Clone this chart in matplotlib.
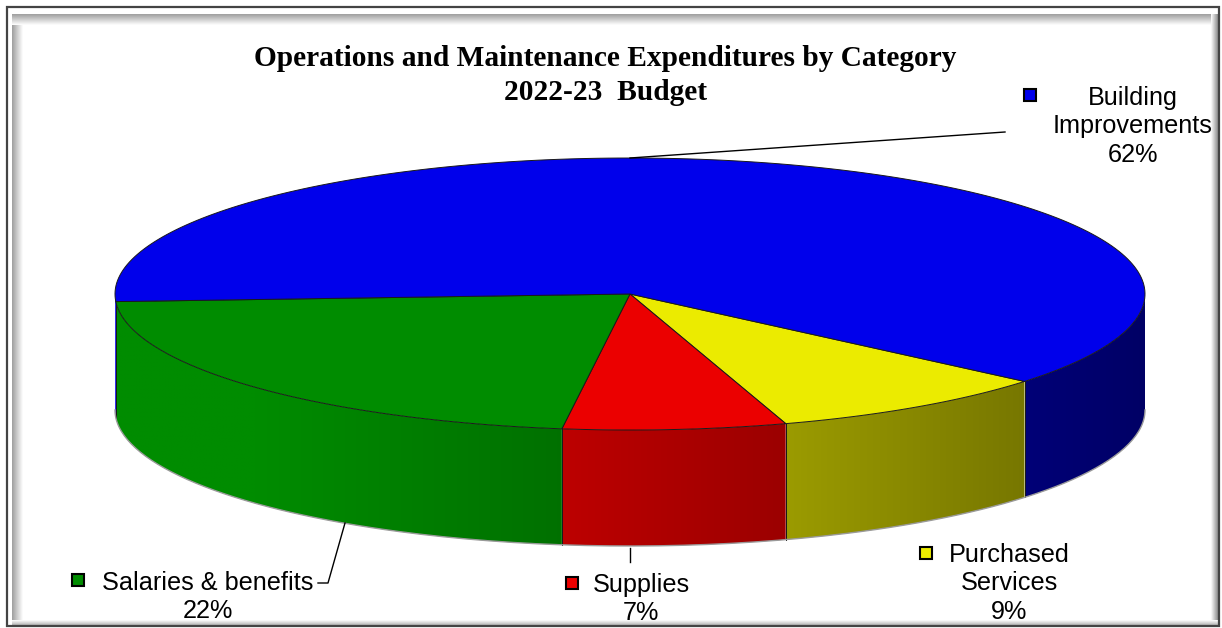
import matplotlib
matplotlib.use("Agg")
import matplotlib.pyplot as plt
import numpy as np
from matplotlib.patches import Polygon, Rectangle

# Data
categories = ["Purchased\nServices", "Supplies", "Salaries & benefits", "Building\nImprovements"]
shares = [9, 7, 22, 62]
colors = ["#ebeb00", "#eb0000", "#008c00", "#0000eb"]

title_lines = ["Operations and Maintenance Expenditures by Category", "2022-23  Budget"]

# pie geometry (pixels, y downward)
cx, cy = 630, 294
ra, rb = 515, 136
depth = 116
start = 40.0

W, H = 1222, 628
fig = plt.figure(figsize=(W / 100, H / 100), dpi=100)
ax = fig.add_axes([0, 0, 1, 1])
ax.set_xlim(0, W)
ax.set_ylim(H, 0)
ax.axis("off")


def rim(t):
    t = np.radians(t)
    return cx + ra * np.cos(t), cy + rb * np.sin(t)


def shade_x(x):
    # light comes from the left: walls darken towards the right
    return np.clip(0.76 - 0.33 * (x - cx) / ra, 0, 1)


# slice angle ranges
spans = []
t0 = start
for v in shares:
    t1 = t0 + v / sum(shares) * 360
    spans.append((t0, t1))
    t0 = t1

# front walls (visible where sin > 0), shaded with a horizontal gradient
for (a0, a1), c in zip(spans, colors):
    base = np.array(matplotlib.colors.to_rgb(c))
    for lo, hi in [(0, 180), (360, 540)]:
        s, e = max(a0, lo), min(a1, hi)
        if e <= s:
            continue
        ts = np.linspace(s, e, 200)
        xs, ys = rim(ts)
        pts = list(zip(xs, ys)) + list(zip(xs[::-1], ys[::-1] + depth))
        poly = Polygon(pts, closed=True, facecolor="none", edgecolor="none", zorder=1)
        ax.add_patch(poly)
        x0, x1 = xs.min(), xs.max()
        gx = np.linspace(x0, x1, 256)
        img = (base[None, :] * shade_x(gx)[:, None])[None, :, :]
        im = ax.imshow(img, extent=[x0, x1, ys.max() + depth, ys.min()], aspect="auto",
                       interpolation="bilinear", zorder=1)
        im.set_clip_path(poly)
        for t in (s, e):
            x, y = rim(t)
            if 0 < (t % 360) < 180:
                ax.plot([x, x], [y, y + depth], color="#1a1a1a", lw=0.7, zorder=2)

# bottom outline
tb = np.linspace(0, 180, 200)
xb, yb = rim(tb)
ax.plot(xb, yb + depth, color="#9a9a9a", lw=1.0, zorder=2)

# top faces
for (a0, a1), c in zip(spans, colors):
    ts = np.linspace(a0, a1, 200)
    xs, ys = rim(ts)
    pts = [(cx, cy)] + list(zip(xs, ys))
    ax.add_patch(Polygon(pts, closed=True, facecolor=c, edgecolor="#1a1a1a",
                         lw=0.7, zorder=3))

# title
for txt, y in zip(title_lines, [58, 92]):
    ax.text(605, y, txt, ha="center", va="center", fontsize=21.2, fontweight="bold",
            family="Liberation Serif", zorder=5)

lab_font = dict(family="Liberation Sans", fontsize=18.2, zorder=5, ha="center", va="center")


def marker(x, y, c):
    ax.add_patch(Rectangle((x - 6, y - 6), 12, 12, facecolor=c, edgecolor="black",
                           lw=1.5, zorder=5))


def label(lines, x, y0, step=28.5):
    for i, ln in enumerate(lines):
        ax.text(x, y0 + i * step, ln, **lab_font)


# Building Improvements
marker(1030, 95, colors[3])
label(["Building", "Improvements", "%d%%" % shares[3]], 1133, 98)
ax.plot([630, 1005], [158, 132], color="black", lw=1.0, zorder=4)

# Purchased Services
marker(926, 553, colors[0])
label(["Purchased", "Services", "%d%%" % shares[0]], 1009, 555)

# Supplies
marker(572, 583, colors[1])
label(["Supplies", "%d%%" % shares[1]], 641, 585)
ax.plot([630, 630], [548, 562], color="black", lw=1.0, zorder=4)

# Salaries & benefits
marker(78, 580, colors[2])
label(["Salaries & benefits", "%d%%" % shares[2]], 208, 583)
ax.plot([318, 328, 345], [583, 583, 523], color="black", lw=1.0, zorder=4)


# bevelled frame: gray gradient bands inside a thin dark outline
def band(x0, x1, y0, y1, g0, g1, horizontal):
    ramp = np.linspace(g0, g1, 64)
    img = ramp[None, :] if horizontal else ramp[:, None]
    ax.imshow(np.dstack([img, img, img]), extent=[x0, x1, y1, y0], aspect="auto",
              interpolation="bilinear", zorder=0.5)


band(12, 23, 14, 626, 0.62, 1.0, True)      # left
band(12, 1212, 14, 25, 0.62, 1.0, False)    # top
band(1211, 1218, 14, 626, 1.0, 0.55, True)  # right
band(12, 1218, 620, 626, 1.0, 0.65, False)  # bottom
ax.add_patch(Rectangle((7, 7), 1212, 619, fill=False, edgecolor="#444444", lw=1.6, zorder=6))
ax.set_xlim(0, W)
ax.set_ylim(H, 0)

fig.savefig("out.png", dpi=100)
